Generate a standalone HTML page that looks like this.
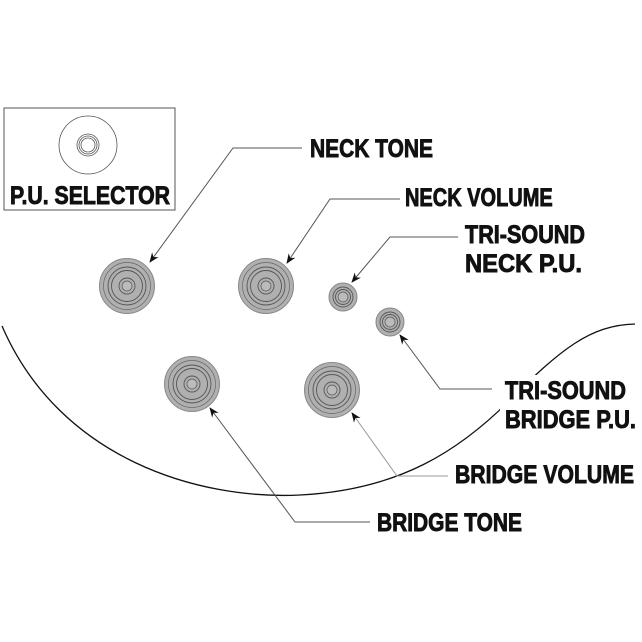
<!DOCTYPE html>
<html><head><style>html,body{margin:0;padding:0;background:#fff}svg{display:block}
text{font-family:"Liberation Sans Narrow","Liberation Sans",sans-serif;font-weight:bold;font-size:25px;fill:#111;stroke:#111;stroke-width:0.9}</style></head>
<body>
<svg width="642" height="642" viewBox="0 0 642 642" xmlns="http://www.w3.org/2000/svg">
<defs>
<marker id="ar" markerWidth="10" markerHeight="8" refX="9" refY="4" orient="auto" markerUnits="userSpaceOnUse">
<path d="M0,0 L10,4 L0,8 L3,4 z" fill="#111"/></marker>
<g id="big">
<circle r="27.5" fill="#b0b0b0" stroke="#888" stroke-width="1"/>
<circle r="23.5" fill="none" stroke="#666" stroke-width="0.7"/>
<circle r="19" fill="none" stroke="#555" stroke-width="0.9"/>
<circle r="15.5" fill="none" stroke="#555" stroke-width="0.9"/>
<circle r="8" fill="none" stroke="#555" stroke-width="0.9"/>
<circle r="5" fill="#bbb" stroke="#555" stroke-width="0.7"/>
</g>
<g id="small">
<circle r="14" fill="#b0b0b0" stroke="#888" stroke-width="1"/>
<circle r="10" fill="none" stroke="#555" stroke-width="0.9"/>
<circle r="7.5" fill="none" stroke="#555" stroke-width="0.9"/>
<circle r="5" fill="#bbb" stroke="#555" stroke-width="0.7"/>
</g>
</defs>
<path d="M2,326 C60,460 200,500 300,495 C400,490 460,450 510,400 C560,350 590,325 635,324" fill="none" stroke="#111" stroke-width="1.3"/>
<rect x="4" y="108" width="171" height="102" fill="#fff" stroke="#555" stroke-width="1"/>
<circle cx="88" cy="145" r="29" fill="none" stroke="#555" stroke-width="0.8"/>
<circle cx="88" cy="145" r="11" fill="none" stroke="#555" stroke-width="0.8"/>
<circle cx="88" cy="145" r="9" fill="none" stroke="#555" stroke-width="0.8"/>
<circle cx="88" cy="145" r="7" fill="none" stroke="#555" stroke-width="0.8"/>
<text x="10" y="204" textLength="160" lengthAdjust="spacingAndGlyphs">P.U. SELECTOR</text>
<use href="#big" x="127" y="286"/>
<use href="#big" x="266" y="286"/>
<use href="#small" x="343" y="297"/>
<use href="#small" x="390" y="322"/>
<use href="#big" x="192" y="384"/>
<use href="#big" x="332" y="390"/>
<g fill="none" stroke="#555" stroke-width="1">
<polyline points="302,148 233,148 150,262" marker-end="url(#ar)"/>
<polyline points="400,199 330,199 287,263" marker-end="url(#ar)"/>
<polyline points="458,237 390,237 352,282" marker-end="url(#ar)"/>
<polyline points="492,389 440,389 400,335" marker-end="url(#ar)"/>
<polyline points="448,476 397,476 352,413" marker-end="url(#ar)" stroke="#999"/>
<polyline points="370,522 295,522 210,408" marker-end="url(#ar)"/>
</g>
<rect x="500" y="375" width="140" height="60" fill="#fff"/>
<text x="310" y="157" textLength="123" lengthAdjust="spacingAndGlyphs">NECK TONE</text>
<g transform="translate(405,206) scale(0.8,1)"><text x="0" y="0" style="font-size:25px">NECK VOLUME</text></g>
<text x="465" y="243" textLength="120" lengthAdjust="spacingAndGlyphs">TRI-SOUND</text>
<text x="465" y="272" textLength="117" lengthAdjust="spacingAndGlyphs">NECK P.U.</text>
<text x="505" y="399" textLength="121" lengthAdjust="spacingAndGlyphs">TRI-SOUND</text>
<text x="505" y="428" textLength="131" lengthAdjust="spacingAndGlyphs">BRIDGE P.U.</text>
<text x="455" y="483" textLength="179" lengthAdjust="spacingAndGlyphs">BRIDGE VOLUME</text>
<text x="377" y="531" textLength="145" lengthAdjust="spacingAndGlyphs">BRIDGE TONE</text>
</svg>
</body></html>
